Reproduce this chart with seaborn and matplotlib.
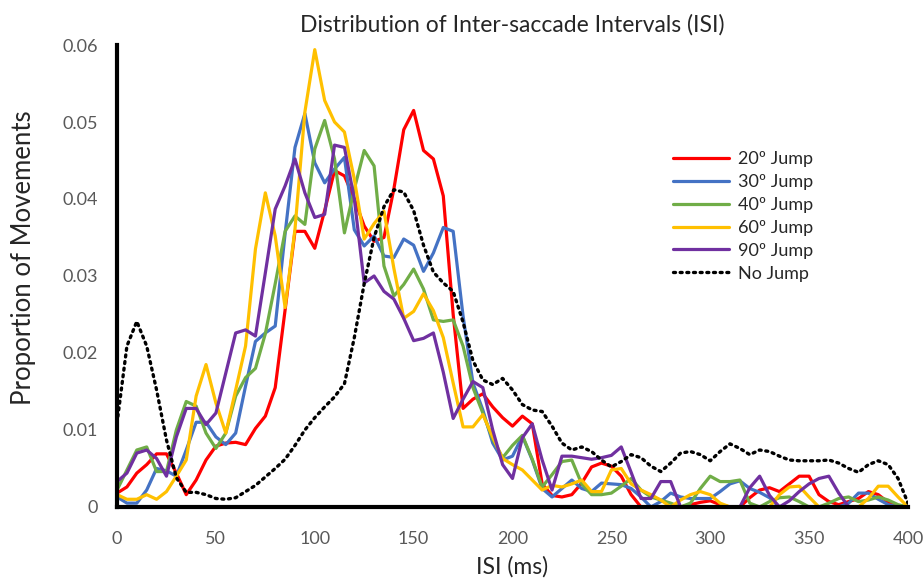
import matplotlib
matplotlib.use("Agg")
import matplotlib.pyplot as plt
import seaborn as sns
import numpy as np
import pandas as pd

# ISI bins (ms), 5 ms steps
isi = np.arange(0, 405, 5)

jump20 = [0.0018, 0.0026, 0.0044, 0.0055, 0.0069, 0.0069, 0.0044, 0.0016, 0.0035, 0.0061,
          0.0079, 0.0083, 0.0084, 0.0081, 0.0102, 0.0118, 0.0155, 0.0256, 0.0358, 0.0358,
          0.0336, 0.0385, 0.0437, 0.0430, 0.0400, 0.0365, 0.0345, 0.0350, 0.0413, 0.0490,
          0.0515, 0.0463, 0.0452, 0.0404, 0.0250, 0.0128, 0.0140, 0.0147, 0.0130, 0.0116,
          0.0105, 0.0118, 0.0108, 0.0030, 0.0015, 0.0013, 0.0016, 0.0031, 0.0052, 0.0057,
          0.0053, 0.0040, 0.0016, 0.0, 0.0, 0.0, 0.0, 0.0, 0.0003, 0.0006,
          0.0008, 0.0003, 0.0, 0.0, 0.0012, 0.0022, 0.0025, 0.0020, 0.0030, 0.0040,
          0.0040, 0.0016, 0.0007, 0.0003, 0.0007, 0.0011, 0.0020, 0.0016, 0.0006, 0.0, 0.0]

jump30 = [0.0013, 0.0005, 0.0005, 0.0022, 0.0050, 0.0047, 0.0040, 0.0074, 0.0110, 0.0110,
          0.0091, 0.0081, 0.0096, 0.0157, 0.0215, 0.0226, 0.0235, 0.0355, 0.0467, 0.0511,
          0.0447, 0.0421, 0.0439, 0.0454, 0.0360, 0.0339, 0.0352, 0.0326, 0.0324, 0.0348,
          0.0340, 0.0306, 0.0330, 0.0363, 0.0358, 0.0248, 0.0161, 0.0126, 0.0083, 0.0061,
          0.0066, 0.0092, 0.0061, 0.0024, 0.0013, 0.0024, 0.0035, 0.0024, 0.0020, 0.0031,
          0.0030, 0.0029, 0.0024, 0.0013, 0.0, 0.0007, 0.0018, 0.0013, 0.0011, 0.0011,
          0.0011, 0.0020, 0.0030, 0.0034, 0.0024, 0.0019, 0.0012, 0.0, 0.0, 0.0,
          0.0, 0.0, 0.0, 0.0, 0.0005, 0.0018, 0.0018, 0.0010, 0.0003, 0.0, 0.0]

jump40 = [0.0022, 0.0048, 0.0074, 0.0078, 0.0046, 0.0046, 0.0100, 0.0137, 0.0131, 0.0096,
          0.0076, 0.0096, 0.0144, 0.0168, 0.0180, 0.0225, 0.0290, 0.0358, 0.0378, 0.0367,
          0.0465, 0.0502, 0.0452, 0.0356, 0.0413, 0.0463, 0.0443, 0.0313, 0.0274, 0.0289,
          0.0309, 0.0283, 0.0243, 0.0241, 0.0243, 0.0209, 0.0155, 0.0122, 0.0088, 0.0064,
          0.0080, 0.0093, 0.0062, 0.0026, 0.0042, 0.0059, 0.0061, 0.0030, 0.0016, 0.0016,
          0.0018, 0.0027, 0.0037, 0.0022, 0.0013, 0.0009, 0.0005, 0.0, 0.0005, 0.0024,
          0.0040, 0.0033, 0.0033, 0.0035, 0.0005, 0.0, 0.0007, 0.0012, 0.0013, 0.0007,
          0.0, 0.0, 0.0005, 0.0011, 0.0013, 0.0007, 0.0009, 0.0013, 0.0009, 0.0003, 0.0]

jump60 = [0.0016, 0.0010, 0.0010, 0.0016, 0.0010, 0.0020, 0.0040, 0.0061, 0.0144, 0.0185,
          0.0135, 0.0096, 0.0152, 0.0209, 0.0335, 0.0408, 0.0352, 0.0259, 0.0361, 0.0513,
          0.0594, 0.0528, 0.0500, 0.0487, 0.0426, 0.0348, 0.0368, 0.0384, 0.0310, 0.0245,
          0.0254, 0.0277, 0.0255, 0.0220, 0.0161, 0.0104, 0.0104, 0.0120, 0.0091, 0.0063,
          0.0055, 0.0048, 0.0035, 0.0022, 0.0028, 0.0026, 0.0030, 0.0035, 0.0020, 0.0020,
          0.0048, 0.0050, 0.0030, 0.0022, 0.0016, 0.0009, 0.0, 0.0009, 0.0016, 0.0020,
          0.0016, 0.0005, 0.0, 0.0, 0.0, 0.0, 0.0, 0.0016, 0.0026, 0.0027,
          0.0013, 0.0, 0.0, 0.0, 0.0, 0.0, 0.0011, 0.0027, 0.0027, 0.0013, 0.0]

jump90 = [0.0033, 0.0044, 0.0070, 0.0074, 0.0063, 0.0040, 0.0091, 0.0128, 0.0128, 0.0107,
          0.0122, 0.0174, 0.0226, 0.0230, 0.0222, 0.0304, 0.0387, 0.0417, 0.0452, 0.0408,
          0.0376, 0.0380, 0.0470, 0.0467, 0.0400, 0.0291, 0.0300, 0.0280, 0.0270, 0.0245,
          0.0216, 0.0219, 0.0226, 0.0175, 0.0115, 0.0140, 0.0163, 0.0155, 0.0100, 0.0055,
          0.0037, 0.0090, 0.0108, 0.0061, 0.0022, 0.0066, 0.0066, 0.0064, 0.0062, 0.0064,
          0.0067, 0.0078, 0.0045, 0.0011, 0.0011, 0.0033, 0.0033, 0.0, 0.0, 0.0,
          0.0, 0.0, 0.0, 0.0, 0.0025, 0.0040, 0.0015, 0.0, 0.0008, 0.0020,
          0.0030, 0.0037, 0.0040, 0.0018, 0.0, 0.0, 0.0, 0.0, 0.0, 0.0, 0.0]

nojump = [0.0109, 0.0209, 0.0241, 0.0209, 0.0152, 0.0087, 0.0038, 0.0019, 0.0019, 0.0016,
          0.0011, 0.0010, 0.0012, 0.0020, 0.0028, 0.0039, 0.0050, 0.0062, 0.0080, 0.0100,
          0.0116, 0.0130, 0.0143, 0.0160, 0.0220, 0.0290, 0.0350, 0.0390, 0.0412, 0.0409,
          0.0385, 0.0340, 0.0305, 0.0291, 0.0280, 0.0240, 0.0190, 0.0165, 0.0159, 0.0167,
          0.0152, 0.0133, 0.0126, 0.0124, 0.0105, 0.0083, 0.0074, 0.0078, 0.0072, 0.0061,
          0.0052, 0.0059, 0.0068, 0.0064, 0.0053, 0.0046, 0.0057, 0.0070, 0.0072, 0.0068,
          0.0060, 0.0072, 0.0082, 0.0076, 0.0068, 0.0074, 0.0072, 0.0066, 0.0061, 0.0060,
          0.0060, 0.0060, 0.0061, 0.0057, 0.0050, 0.0045, 0.0055, 0.0060, 0.0055, 0.0037, 0.0005]

labels = ["20º Jump", "30º Jump", "40º Jump", "60º Jump", "90º Jump", "No Jump"]
colors = ["#FF0000", "#4472C4", "#70AD47", "#FFC000", "#7030A0", "#000000"]
series = [jump20, jump30, jump40, jump60, jump90, nojump]

yticks = [0, 0.01, 0.02, 0.03, 0.04, 0.05, 0.06]
ytick_labels = ["0", "0.01", "0.02", "0.03", "0.04", "0.05", "0.06"]
xticks = [0, 50, 100, 150, 200, 250, 300, 350, 400]

sns.set_style("white")
plt.rcParams["font.family"] = ["Lato", "DejaVu Sans"]

fig, ax = plt.subplots(figsize=(9.23, 5.83), dpi=100)
fig.subplots_adjust(left=0.1268, right=0.9837, bottom=0.1304, top=0.9228)

for lab, col, vals in zip(labels, colors, series):
    df = pd.DataFrame({"ISI": isi, "prop": vals})
    if lab == "No Jump":
        sns.lineplot(data=df, x="ISI", y="prop", color=col, lw=2.4, ax=ax,
                     label=lab, linestyle=(0, (0.6, 1.4)), dash_capstyle="round")
    else:
        sns.lineplot(data=df, x="ISI", y="prop", color=col, lw=2.3, ax=ax, label=lab)

ax.set_xlim(0, 400)
ax.set_ylim(0, 0.06)
ax.set_xticks(xticks)
ax.set_yticks(yticks)
ax.set_yticklabels(ytick_labels)

for s in ["top", "right"]:
    ax.spines[s].set_visible(False)
for s in ["left", "bottom"]:
    ax.spines[s].set_color("black")
    ax.spines[s].set_linewidth(3)
ax.tick_params(axis="both", direction="in", length=5, width=3, color="black",
               labelsize=13, labelcolor="#595959")
ax.tick_params(axis="y", pad=14)
ax.tick_params(axis="x", pad=17)

ax.set_title("Distribution of Inter-saccade Intervals (ISI)", fontsize=16.5,
             color="#262626", pad=10)
ax.set_xlabel("ISI (ms)", fontsize=16.5, color="#262626", labelpad=7)
ax.set_ylabel("Proportion of Movements", fontsize=18.5, color="#262626")
ax.yaxis.set_label_coords(-0.103, 0.54)

leg = ax.legend(loc="upper left", bbox_to_anchor=(0.683, 0.805), frameon=False,
                fontsize=13, handlelength=3.1, handletextpad=0.45, labelspacing=0.38)

fig.savefig("out.png", dpi=100)
